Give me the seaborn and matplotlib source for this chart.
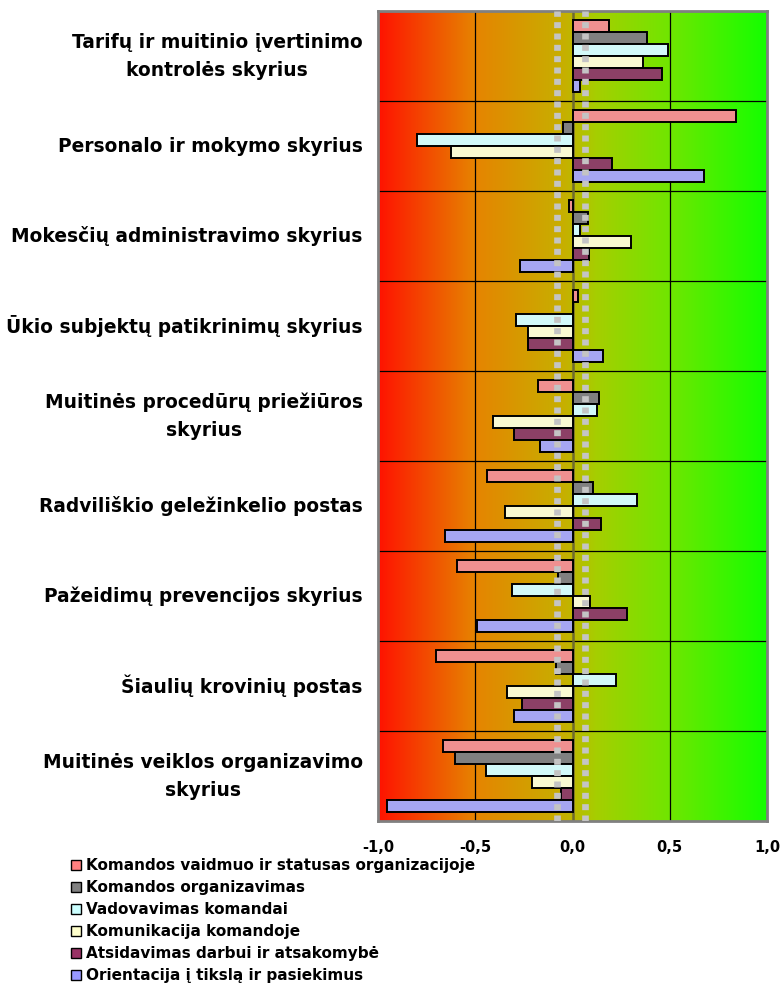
import numpy as np
import pandas as pd
import matplotlib
matplotlib.use("Agg")
import matplotlib.pyplot as plt
from matplotlib.colors import LinearSegmentedColormap
from matplotlib.patches import Patch
from matplotlib.ticker import FuncFormatter, MultipleLocator
import seaborn as sns

# Departments (top to bottom)
departments = [
    "Tarifų ir muitinio įvertinimo\nkontrolės skyrius",
    "Personalo ir mokymo skyrius",
    "Mokesčių administravimo skyrius",
    "Ūkio subjektų patikrinimų skyrius",
    "Muitinės procedūrų priežiūros\nskyrius",
    "Radviliškio geležinkelio postas",
    "Pažeidimų prevencijos skyrius",
    "Šiaulių krovinių postas",
    "Muitinės veiklos organizavimo\nskyrius",
]

# Team assessment dimensions
dimensions = [
    "Komandos vaidmuo ir statusas organizacijoje",
    "Komandos organizavimas",
    "Vadovavimas komandai",
    "Komunikacija komandoje",
    "Atsidavimas darbui ir atsakomybė",
    "Orientacija į tikslą ir pasiekimus",
]

# Scores per dimension, one value per department
vaidmuo = [0.19, 0.84, -0.02, 0.03, -0.175, -0.44, -0.595, -0.70, -0.665]
organizavimas = [0.385, -0.05, 0.08, 0.0, 0.135, 0.105, -0.075, -0.085, -0.605]
vadovavimas = [0.49, -0.80, 0.04, -0.29, 0.125, 0.33, -0.31, 0.225, -0.445]
komunikacija = [0.365, -0.625, 0.30, -0.23, -0.41, -0.345, 0.09, -0.335, -0.21]
atsidavimas = [0.46, 0.205, 0.087, -0.23, -0.30, 0.147, 0.28, -0.26, -0.057]
orientacija = [0.04, 0.675, -0.27, 0.157, -0.165, -0.655, -0.49, -0.30, -0.952]

# Neutral zone boundaries
neutral_low = -0.08
neutral_high = 0.065

colors = ["#FF8080", "#808080", "#CCFFFF", "#FFFFCC", "#993366", "#9999FF"]

series = [vaidmuo, organizavimas, vadovavimas, komunikacija, atsidavimas, orientacija]
rows = []
for dim, vals in zip(dimensions, series):
    for dep, v in zip(departments, vals):
        rows.append({"skyrius": dep, "dimensija": dim, "reiksme": v})
df = pd.DataFrame(rows)

sns.set_style("white")
plt.rcParams["font.family"] = ["DejaVu Sans"]
plt.rcParams["text.color"] = "black"
plt.rcParams["xtick.color"] = "black"
plt.rcParams["ytick.color"] = "black"
plt.rcParams["xtick.labelcolor"] = "black"
plt.rcParams["ytick.labelcolor"] = "black"

fig = plt.figure(figsize=(7.83, 9.90), dpi=100)
ax = fig.add_axes([378 / 783, 1 - 821 / 990, (767 - 378) / 783, (821 - 11) / 990])

sns.barplot(
    data=df, y="skyrius", x="reiksme", hue="dimensija",
    order=departments, hue_order=dimensions, palette=colors,
    orient="h", width=0.8, errorbar=None, edgecolor="black",
    linewidth=1.4, legend=False, ax=ax,
)
for p in ax.patches:
    p.set_zorder(3)

n = len(departments)

# red-to-green background gradient
cmap = LinearSegmentedColormap.from_list(
    "rg",
    [(0.0, "#FF1200"), (0.25, "#E68400"), (0.48, "#C6B000"),
     (0.56, "#A6CE00"), (0.75, "#70E600"), (1.0, "#14FF00")],
    N=1024,
)
grad = np.tile(np.linspace(0, 1, 1024), (4, 1))
ax.imshow(grad, extent=(-1, 1, n - 0.5, -0.5), aspect="auto", cmap=cmap,
          vmin=0, vmax=1, zorder=0, interpolation="nearest")
ax.set_xlim(-1, 1)
ax.set_ylim(n - 0.5, -0.5)

# grid: vertical at ±0.5, horizontal between departments
for xv in (-0.5, 0.5):
    ax.axvline(xv, color="black", lw=0.9, zorder=1)
for i in range(n - 1):
    ax.axhline(i + 0.5, color="black", lw=0.9, zorder=1)
ax.axvline(0, color="#6E6A30", lw=1.8, zorder=2)

# neutral zone markers
for xv in (neutral_low, neutral_high):
    ax.axvline(xv, color="#C4C4C4", lw=4.8, linestyle=(0, (0.9, 0.8)),
               zorder=4, dash_capstyle="butt")

for s in ax.spines.values():
    s.set_color("#808080")
    s.set_linewidth(2)
    s.set_visible(True)

ax.xaxis.set_major_locator(MultipleLocator(0.5))
ax.xaxis.set_major_formatter(FuncFormatter(
    lambda v, _: f"{v:.1f}".replace(".", ",").replace("-0,0", "0,0")))
ax.tick_params(axis="x", direction="out", length=5, width=1.2, color="#808080",
               pad=9, labelsize=10.5, labelcolor="black")
for t in ax.get_xticklabels():
    t.set_fontweight("bold")

ax.set_yticks(range(n))
ax.set_yticklabels(departments, fontsize=13.4, fontweight="bold",
                   multialignment="center", linespacing=1.6, color="black",
                   va="center")
ax.tick_params(axis="y", length=0, pad=11)
ax.set_xlabel("")
ax.set_ylabel("")

handles = [Patch(facecolor=c, edgecolor="black", linewidth=1.0) for c in colors]
leg = fig.legend(
    handles, dimensions, loc="upper left", bbox_to_anchor=(71 / 783, 1 - 858 / 990),
    frameon=False, handlelength=0.65, handleheight=0.65, handletextpad=0.3,
    labelspacing=0.46, borderaxespad=0, borderpad=0,
    prop={"weight": "bold", "size": 11},
)
for t in leg.get_texts():
    t.set_color("black")

fig.savefig("out.png", dpi=100, facecolor="white")
